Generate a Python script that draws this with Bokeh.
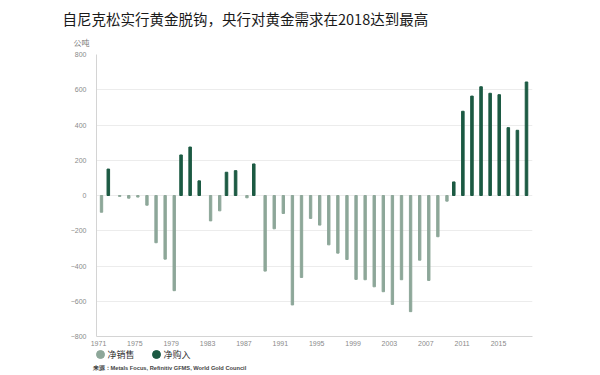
from bokeh.plotting import figure
from bokeh.models import FixedTicker, Title, ColumnDataSource, Range1d
from bokeh.layouts import column
from bokeh.transform import dodge
from bokeh.core.properties import value
from bokeh.embed import file_html
from bokeh.resources import INLINE

years = list(range(1971, 2019))
# net sales (grey) and net purchases (green), tonnes; None = no bar
net_sales = [-95, None, -5, -15, -9, -55, -268, -361, -540, None, None, None,
             -144, -87, None, None, -13, None, -429, -189, -102, -621, -465, -130,
             -168, -280, -327, -363, -476, -478, -518, -546, -618, -478, -659, -367,
             -482, -234, -32, None, None, None, None, None, None, None, None, None]
net_purchases = [None, 150, None, None, None, None, None, None, None, 230, 275, 83,
                 None, None, 132, 141, None, 179, None, None, None, None, None, None,
                 None, None, None, None, None, None, None, None, None, None, None, None,
                 None, None, None, 77, 478, 564, 617, 580, 572, 385, 370, 644]
y_ticks = [-800, -600, -400, -200, 0, 200, 400, 600, 800]
x_ticks = [1971, 1975, 1979, 1983, 1987, 1991, 1995, 1999, 2003, 2007, 2011, 2015]

title_text = "自尼克松实行黄金脱钩，央行对黄金需求在2018达到最高"
unit_text = "公吨"
legend_labels = ["净销售", "净购入"]
source_text = "来源：Metals Focus, Refinitiv GFMS, World Gold Council"

GREY = "#8da799"
GREEN = "#1c5a43"
CJK = "Noto Sans CJK SC"

sales_src = ColumnDataSource(dict(
    year=[y for y, v in zip(years, net_sales) if v is not None],
    value=[v for v in net_sales if v is not None]))
buy_src = ColumnDataSource(dict(
    year=[y for y, v in zip(years, net_purchases) if v is not None],
    value=[v for v in net_purchases if v is not None]))

W = 600
H_MAIN, H_LEG = 348, 27
FL, FR, FT, FB = 96, 532, 54, 336
X0, X1 = 1970.78, 2018.74
Y0, Y1 = -800, 800

p = figure(width=W, height=H_MAIN, output_backend="svg", toolbar_location=None,
           x_range=Range1d(X0, X1), y_range=Range1d(Y0, Y1),
           min_border_left=FL, min_border_right=W - FR, min_border_top=FT,
           min_border_bottom=H_MAIN - FB)
p.outline_line_color = None
p.background_fill_color = "white"
p.border_fill_color = "white"

p.vbar(x=dodge("year", 0.33, range=p.x_range), top="value", width=0.26,
       source=sales_src, color=GREY)
p.vbar(x=dodge("year", 0.08, range=p.x_range), top="value", width=0.28,
       source=buy_src, color=GREEN)

p.xgrid.visible = False
p.ygrid.ticker = FixedTicker(ticks=y_ticks)
p.ygrid.grid_line_color = "#ececec"

p.yaxis.ticker = FixedTicker(ticks=y_ticks)
p.xaxis.ticker = FixedTicker(ticks=x_ticks)
for ax in (p.xaxis, p.yaxis):
    ax.major_tick_line_color = None
    ax.minor_tick_line_color = None
    ax.major_tick_out = 0
    ax.major_tick_in = 0
    ax.minor_tick_out = 0
    ax.minor_tick_in = 0
    ax.axis_line_color = "#d4d4d4"
    ax.major_label_text_font = "Liberation Sans"
    ax.major_label_text_font_size = "7px"
    ax.major_label_text_color = "#8a8a8a"
p.yaxis.major_label_standoff = 10
p.xaxis.major_label_standoff = 4

unit_title = Title(text=unit_text, align="left", offset=-23,
                   text_font=CJK, text_font_size="8px", text_font_style="normal",
                   text_color="#777777", standoff=13)
p.add_layout(unit_title, "above")
main_title = Title(text=title_text, align="left", offset=-34,
                   text_font=CJK, text_font_size="14.5px", text_font_style="normal",
                   text_color="#1a1a1a", standoff=0)
p.add_layout(main_title, "above")

# legend + source strip below the chart (pixel coordinates, y downward)
leg = figure(width=W, height=H_LEG, output_backend="svg", toolbar_location=None,
             x_range=Range1d(0, W), y_range=Range1d(H_LEG, 0),
             min_border=0, x_axis_type=None, y_axis_type=None)
leg.outline_line_color = None
leg.grid.visible = False
leg.background_fill_color = "white"
leg.border_fill_color = "white"

# do not align this strip's frame with the chart frame above it
for f in (p, leg):
    if "frame_align" in f.properties():
        f.frame_align = False

ly = 354 - H_MAIN
leg.scatter(x=[100, 156], y=[ly, ly], marker="circle", size=8,
            color=[GREY, GREEN])
leg.text(x=[107, 163], y=[ly, ly], text=legend_labels,
         text_font=value(CJK), text_font_size="9px", text_color="#333333",
         text_baseline="middle", text_align="left")
leg.text(x=[92], y=[367 - H_MAIN], text=[source_text],
         text_font=value("Liberation Sans"), text_font_size="5.7px",
         text_font_style="bold", text_color="#444444",
         text_baseline="middle", text_align="left")

layout = column(p, leg, spacing=0)
open("out.html", "w").write(file_html(layout, INLINE))
